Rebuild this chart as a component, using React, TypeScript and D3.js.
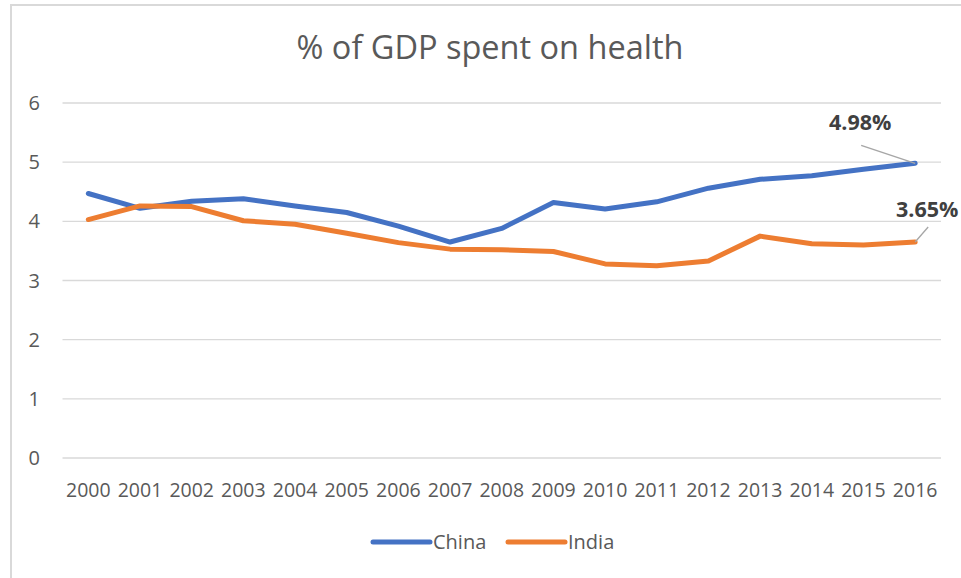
import React from "react";
import * as d3 from "d3";

const years = ["2000","2001","2002","2003","2004","2005","2006","2007","2008","2009","2010","2011","2012","2013","2014","2015","2016"];
const china = [4.47,4.22,4.34,4.38,4.26,4.15,3.92,3.65,3.88,4.32,4.21,4.33,4.56,4.71,4.77,4.88,4.98];
const india = [4.03,4.26,4.25,4.01,3.95,3.80,3.64,3.53,3.52,3.49,3.28,3.25,3.33,3.75,3.62,3.60,3.65];
const yTicks = [0,1,2,3,4,5,6];
const seriesNames = ["China","India"];
const colors = ["#4472C4","#ED7D31"];
const title = "% of GDP spent on health";

const W = 961, H = 578;
const FONT = "'Open Sans', 'Liberation Sans', sans-serif";
const TXT = "#595959";

export default function App() {
  const x = d3.scalePoint<string>().domain(years).range([62.5, 941]).padding(0.5);
  const y = d3.scaleLinear().domain([0, 6]).range([458, 103]);
  const line = d3.line<number>().x((_, i) => x(years[i])!).y(d => y(d));
  const series = [china, india];
  const last = years.length - 1;
  const cx = x(years[last])!;
  const cy = y(china[last]);
  const iy = y(india[last]);

  return (
    <svg width={W} height={H} style={{ position: "absolute", left: 0, top: 0, background: "#fff" }} fontFamily={FONT}>
      <rect x={0} y={0} width={W} height={H} fill="#fff" />
      <path d={`M11,${H} L11,5 L${W},5`} fill="none" stroke="#d9d9d9" strokeWidth={2} />
      <text x={490} y={59} textAnchor="middle" fontSize={32.5} fill={TXT}>{title}</text>
      {yTicks.map(t => (
        <g key={t}>
          <line x1={62.5} x2={941} y1={y(t)} y2={y(t)} stroke="#d9d9d9" strokeWidth={1.3} />
          <text x={40} y={y(t) + 7} textAnchor="end" fontSize={20} fill={TXT}>{t}</text>
        </g>
      ))}
      {years.map(yr => (
        <text key={yr} x={x(yr)!} y={497} textAnchor="middle" fontSize={19.5} fill={TXT}>{yr}</text>
      ))}
      {series.map((s, i) => (
        <path key={i} d={line(s)!} fill="none" stroke={colors[i]} strokeWidth={5} strokeLinejoin="round" strokeLinecap="round" />
      ))}
      <line x1={cx - 54} y1={cy - 18} x2={cx} y2={cy} stroke="#a6a6a6" strokeWidth={1.3} />
      <text x={cx - 55} y={cy - 33} textAnchor="middle" fontSize={21.5} fontWeight="bold" fill="#404040">{china[last].toFixed(2)}%</text>
      <line x1={cx + 13} y1={iy - 15} x2={cx} y2={iy} stroke="#a6a6a6" strokeWidth={1.3} />
      <text x={cx + 12} y={iy - 25} textAnchor="middle" fontSize={21.5} fontWeight="bold" fill="#404040">{india[last].toFixed(2)}%</text>
      {seriesNames.map((n, i) => {
        const lx = [373, 508][i];
        return (
          <g key={n}>
            <line x1={lx} x2={lx + 57} y1={542} y2={542} stroke={colors[i]} strokeWidth={5} strokeLinecap="round" />
            <text x={lx + 60} y={549} fontSize={20} fill={TXT}>{n}</text>
          </g>
        );
      })}
    </svg>
  );
}
